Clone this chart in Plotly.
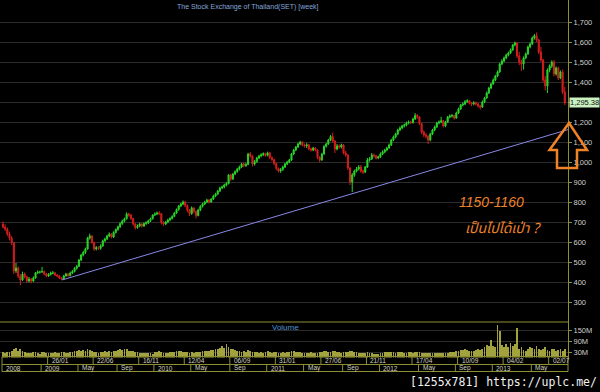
import pandas as pd
import plotly.graph_objects as go

# ---------------- data (weekly SET index) ----------------
START_WEEK = "2008-09-01"

OPEN = [690, 675, 665, 640, 620, 596, 455, 470, 430, 410,
        440, 425, 405, 415, 405, 420, 445, 450, 450, 452,
        440, 430, 438, 445, 445, 435, 430, 420, 415, 430,
        440, 432, 445, 452, 468, 478, 510, 535, 548, 565,
        620, 630, 598, 565, 572, 568, 580, 606, 615, 630,
        640, 625, 648, 662, 676, 692, 705, 716, 740, 735,
        718, 690, 672, 680, 690, 680, 692, 696, 706, 716,
        735, 740, 745, 742, 698, 690, 700, 710, 718, 728,
        745, 762, 780, 790, 800, 782, 760, 742, 770, 752,
        732, 760, 778, 790, 800, 810, 800, 815, 830, 840,
        855, 870, 875, 885, 892, 935, 915, 940, 952, 965,
        975, 990, 982, 988, 1040, 1030, 990, 1002, 1020, 1030,
        1036, 1042, 1033, 1045, 1022, 1012, 992, 968, 955, 962,
        975, 990, 1000, 1010, 1040, 1060, 1075, 1090, 1100, 1085,
        1080, 1086, 1065, 1060, 1070, 1060, 1022, 1010, 1040, 1078,
        1090, 1110, 1128, 1105, 1065, 1080, 1075, 1085, 1045, 1035,
        970, 900, 935, 955, 965, 975, 955, 950, 975, 1010,
        1015, 1035, 1030, 1020, 1025, 1040, 1050, 1060, 1070, 1085,
        1110, 1125, 1140, 1160, 1170, 1180, 1185, 1195, 1200, 1198,
        1215, 1232, 1225, 1192, 1150, 1135, 1128, 1110, 1140, 1160,
        1175, 1195, 1200, 1206, 1180, 1200, 1225, 1230, 1232, 1220,
        1245, 1265, 1285, 1290, 1302, 1306, 1295, 1290, 1296, 1290,
        1280, 1275, 1300, 1320, 1345, 1370, 1390, 1410, 1430, 1450,
        1490, 1505, 1520, 1535, 1545, 1560, 1585, 1595, 1530, 1500,
        1490, 1520, 1540, 1575, 1590, 1620, 1632, 1610, 1550, 1510,
        1410, 1380, 1460, 1480, 1500, 1440, 1470, 1420, 1450, 1350]

HIGH = [702, 688, 672, 652, 630, 600, 495, 478, 440, 452,
        448, 432, 425, 420, 428, 450, 458, 456, 476, 458,
        446, 444, 452, 455, 450, 440, 434, 425, 436, 446,
        445, 452, 460, 474, 486, 515, 540, 556, 572, 626,
        642, 634, 602, 580, 578, 588, 612, 622, 636, 648,
        645, 654, 668, 682, 698, 712, 722, 748, 746, 740,
        722, 694, 688, 696, 694, 698, 704, 712, 722, 738,
        748, 752, 754, 745, 704, 706, 716, 724, 734, 750,
        768, 785, 796, 808, 806, 788, 765, 778, 774, 758,
        766, 784, 796, 806, 816, 814, 820, 836, 846, 860,
        876, 882, 892, 900, 940, 942, 946, 958, 970, 982,
        996, 998, 996, 1046, 1050, 1034, 1010, 1026, 1036, 1044,
        1048, 1046, 1052, 1050, 1028, 1016, 996, 972, 970, 982,
        996, 1006, 1016, 1046, 1066, 1080, 1096, 1106, 1104, 1092,
        1094, 1090, 1072, 1076, 1074, 1064, 1030, 1046, 1084, 1096,
        1116, 1135, 1147, 1110, 1090, 1088, 1092, 1090, 1056, 1040,
        975, 945, 962, 975, 985, 985, 962, 980, 1020, 1025,
        1045, 1042, 1036, 1032, 1048, 1058, 1066, 1076, 1092, 1116,
        1132, 1146, 1166, 1178, 1186, 1192, 1202, 1208, 1206, 1222,
        1245, 1240, 1230, 1196, 1158, 1145, 1134, 1146, 1166, 1182,
        1200, 1208, 1226, 1210, 1206, 1230, 1238, 1240, 1236, 1252,
        1272, 1290, 1298, 1310, 1314, 1310, 1300, 1304, 1302, 1296,
        1286, 1308, 1326, 1352, 1376, 1396, 1418, 1436, 1458, 1496,
        1514, 1528, 1542, 1552, 1568, 1590, 1602, 1598, 1550, 1512,
        1528, 1548, 1582, 1598, 1628, 1640, 1648, 1616, 1575, 1515,
        1430, 1468, 1488, 1508, 1510, 1478, 1476, 1458, 1462, 1376]

LOW = [668, 655, 630, 608, 585, 440, 445, 420, 384, 405,
       418, 396, 398, 393, 400, 416, 440, 442, 446, 434,
       424, 425, 432, 438, 430, 424, 414, 411, 412, 426,
       426, 428, 440, 448, 462, 475, 505, 528, 540, 562,
       612, 590, 556, 558, 560, 562, 576, 600, 610, 624,
       618, 620, 642, 656, 670, 686, 698, 712, 726, 710,
       682, 662, 666, 674, 672, 675, 686, 690, 700, 712,
       730, 734, 734, 688, 680, 684, 694, 704, 712, 724,
       740, 756, 774, 784, 774, 748, 730, 736, 744, 718,
       728, 754, 772, 784, 794, 792, 796, 810, 824, 834,
       850, 864, 868, 878, 888, 905, 910, 934, 946, 958,
       970, 974, 975, 984, 1022, 978, 982, 996, 1014, 1024,
       1030, 1026, 1028, 1014, 1004, 984, 958, 948, 946, 956,
       970, 984, 994, 1006, 1034, 1054, 1070, 1084, 1078, 1072,
       1070, 1058, 1052, 1054, 1052, 1014, 1000, 1006, 1036, 1072,
       1086, 1104, 1098, 1045, 1058, 1066, 1068, 1038, 1026, 960,
       885, 850, 926, 948, 958, 946, 940, 944, 970, 1002,
       1010, 1022, 1012, 1014, 1020, 1034, 1044, 1054, 1066, 1080,
       1104, 1118, 1134, 1154, 1164, 1172, 1178, 1188, 1190, 1192,
       1210, 1216, 1185, 1140, 1124, 1118, 1090, 1104, 1134, 1154,
       1170, 1188, 1194, 1172, 1174, 1196, 1218, 1222, 1212, 1216,
       1240, 1260, 1278, 1284, 1296, 1288, 1280, 1284, 1282, 1272,
       1262, 1270, 1294, 1316, 1340, 1364, 1386, 1404, 1424, 1446,
       1484, 1498, 1514, 1528, 1540, 1556, 1578, 1520, 1485, 1455,
       1462, 1514, 1536, 1568, 1586, 1612, 1600, 1540, 1500, 1400,
       1358, 1345, 1448, 1470, 1428, 1432, 1410, 1414, 1340, 1285]

CLOSE = [675, 665, 640, 620, 596, 455, 470, 430, 410, 440,
         425, 405, 415, 405, 420, 445, 450, 450, 452, 440,
         430, 438, 445, 445, 435, 430, 420, 415, 430, 440,
         432, 445, 452, 468, 478, 510, 535, 548, 565, 620,
         630, 598, 565, 572, 568, 580, 606, 615, 630, 640,
         625, 648, 662, 676, 692, 705, 716, 740, 735, 718,
         690, 672, 680, 690, 680, 692, 696, 706, 716, 735,
         740, 745, 742, 698, 690, 700, 710, 718, 728, 745,
         762, 780, 790, 800, 782, 760, 742, 770, 752, 732,
         760, 778, 790, 800, 810, 800, 815, 830, 840, 855,
         870, 875, 885, 892, 935, 915, 940, 952, 965, 975,
         990, 982, 988, 1040, 1030, 990, 1002, 1020, 1030, 1036,
         1042, 1033, 1045, 1022, 1012, 992, 968, 955, 962, 975,
         990, 1000, 1010, 1040, 1060, 1075, 1090, 1100, 1085, 1080,
         1086, 1065, 1060, 1070, 1060, 1022, 1010, 1040, 1078, 1090,
         1110, 1128, 1105, 1065, 1080, 1075, 1085, 1045, 1035, 970,
         900, 935, 955, 965, 975, 955, 950, 975, 1010, 1015,
         1035, 1030, 1020, 1025, 1040, 1050, 1060, 1070, 1085, 1110,
         1125, 1140, 1160, 1170, 1180, 1185, 1195, 1200, 1198, 1215,
         1232, 1225, 1192, 1150, 1135, 1128, 1110, 1140, 1160, 1175,
         1195, 1200, 1206, 1180, 1200, 1225, 1230, 1232, 1220, 1245,
         1265, 1285, 1290, 1302, 1306, 1295, 1290, 1296, 1290, 1280,
         1275, 1300, 1320, 1345, 1370, 1390, 1410, 1430, 1450, 1490,
         1505, 1520, 1535, 1545, 1560, 1585, 1595, 1530, 1500, 1490,
         1520, 1540, 1575, 1590, 1620, 1632, 1610, 1550, 1510, 1410,
         1380, 1460, 1480, 1500, 1440, 1470, 1420, 1450, 1350, 1295.38]

VOLUME_M = [28, 25, 32, 30, 35, 48, 52, 38, 45, 36,
            30, 27, 25, 24, 28, 30, 26, 18, 32, 30,
            26, 24, 27, 25, 28, 26, 24, 28, 30, 27,
            25, 32, 30, 34, 36, 40, 38, 42, 36, 45,
            40, 35, 30, 28, 26, 30, 32, 34, 30, 36,
            32, 35, 38, 42, 46, 40, 44, 48, 38, 35,
            34, 32, 28, 26, 27, 25, 24, 26, 22, 20,
            30, 32, 34, 28, 25, 24, 26, 28, 30, 32,
            34, 36, 38, 32, 28, 30, 26, 28, 27, 30,
            28, 30, 35, 38, 36, 34, 40, 42, 45, 48,
            52, 62, 50, 74, 55, 48, 45, 40, 38, 35,
            32, 36, 30, 40, 34, 32, 28, 30, 26, 28,
            24, 30, 34, 28, 26, 30, 32, 26, 24, 28,
            26, 30, 32, 34, 36, 32, 30, 28, 26, 25,
            24, 26, 28, 24, 22, 26, 28, 30, 38, 34,
            32, 30, 34, 36, 30, 28, 26, 30, 28, 32,
            36, 34, 30, 28, 26, 24, 22, 26, 28, 24,
            22, 20, 18, 20, 24, 26, 28, 30, 32, 30,
            28, 26, 30, 32, 28, 26, 24, 28, 30, 26,
            28, 32, 30, 26, 24, 22, 24, 26, 22, 24,
            26, 24, 22, 25, 27, 26, 28, 30, 32, 34,
            38, 42, 40, 44, 40, 36, 38, 34, 40, 44,
            42, 48, 55, 70, 62, 97, 62, 58, 180, 145,
            70, 60, 75, 55, 80, 62, 75, 160, 48, 55,
            42, 38, 45, 55, 50, 48, 62, 45, 40, 48,
            55, 42, 38, 46, 44, 36, 40, 45, 38, 48]

LAST_PRICE = 1295.38

PRICE_TICKS = [300, 400, 500, 600, 700, 800, 900, 1000, 1100, 1200,
               1300, 1400, 1500, 1600, 1700]
VOL_TICKS = [30, 90, 150]
VOL_TICK_TEXT = ["30M", "90M", "150M"]

# date axis, row 1 (every 21 weeks) and row 2 (year / month)
ROW1_DATES = ["2009-01-26", "2009-06-22", "2009-11-16", "2010-04-12",
              "2010-09-06", "2011-01-31", "2011-06-27", "2011-11-21",
              "2012-04-16", "2012-09-10", "2013-02-04", "2013-07-01"]
ROW1_TEXT = ["26/01", "22/06", "16/11", "12/04", "06/09", "31/01",
             "27/06", "21/11", "17/04", "10/09", "04/02", "02/07"]
ROW2_DATES = ["2009-01-05", "2009-05-04", "2009-09-07", "2010-01-04",
              "2010-05-03", "2010-09-06", "2011-01-03", "2011-05-02",
              "2011-09-05", "2012-01-02", "2012-05-07", "2012-09-03",
              "2012-12-31", "2013-05-06"]
ROW2_TEXT = ["2009", "May", "Sep", "2010", "May", "Sep", "2011", "May",
             "Sep", "2012", "May", "Sep", "2013", "May"]
ROW2_FIRST = "2008"

# support trend line (date, index level)
TREND_START = ("2009-03-10", 410)
TREND_END = ("2013-08-29 09:00", 1162)

TITLE = "The Stock Exchange of Thailand(SET) [week]"
NOTE1 = "1150-1160"
NOTE2 = "เป็นไปได้เป่า ?"
WATERMARK = "[1255x781] https://uplc.me/"

# ---------------- styling / layout ----------------
W, H = 600, 392
UP = "#2bd42b"
DOWN = "#d41e1e"
AX = "#8e8e34"
GRID = "#2c2c2c"
VOLC = "#a2a23e"
ORANGE = "#f08228"
XR = ["2008-08-22 08:00", "2013-08-29 09:00"]
AX_X = 568


def px(x):
    return x / W


def py(y):
    return 1 - y / H


dates = pd.date_range(START_WEEK, periods=len(CLOSE), freq="W-MON")

fig = go.Figure()
fig.add_trace(go.Candlestick(
    x=dates, open=OPEN, high=HIGH, low=LOW, close=CLOSE,
    increasing=dict(line=dict(color=UP, width=1), fillcolor=UP),
    decreasing=dict(line=dict(color=DOWN, width=1), fillcolor=DOWN),
    whiskerwidth=0, xaxis="x", yaxis="y", showlegend=False, hoverinfo="skip"))
fig.add_trace(go.Bar(
    x=dates, y=VOLUME_M, width=2.6 * 86400000,
    marker=dict(color=VOLC, line=dict(width=0)),
    xaxis="x", yaxis="y2", showlegend=False, hoverinfo="skip"))

tickfont = dict(family="Liberation Sans, Arial, sans-serif", size=7.5, color="#cfcfcf")

fig.update_layout(
    width=W, height=H, margin=dict(l=0, r=0, t=0, b=0),
    paper_bgcolor="black", plot_bgcolor="black", showlegend=False,
    bargap=0,
    xaxis=dict(domain=[0, px(AX_X)], range=XR, type="date", showticklabels=False,
               showgrid=False, zeroline=False, showline=False, ticks="",
               rangeslider=dict(visible=False), anchor="y2"),
    yaxis=dict(domain=[py(322), 1], range=[200, 1810], side="right", anchor="x",
               tickvals=PRICE_TICKS, ticktext=[f"{v:,}" for v in PRICE_TICKS],
               showgrid=True, gridcolor=GRID, gridwidth=1, zeroline=False,
               showline=True, linecolor=AX, linewidth=1,
               ticks="outside", ticklen=3, tickcolor=AX, tickfont=tickfont),
    yaxis2=dict(domain=[py(357.5), py(322)], range=[0, 194], side="right", anchor="x",
                tickvals=VOL_TICKS, ticktext=VOL_TICK_TEXT,
                showgrid=True, gridcolor=GRID, zeroline=False,
                showline=True, linecolor=AX, linewidth=1,
                ticks="outside", ticklen=3, tickcolor=AX, tickfont=tickfont),
)

shapes = []
# panel separator
shapes.append(dict(type="line", xref="paper", yref="paper", x0=0, x1=px(AX_X),
                   y0=py(322), y1=py(322), line=dict(color=AX, width=1)))
# date axis frame
for yy in (356.5, 364.5, 371.5):
    shapes.append(dict(type="line", xref="paper", yref="paper", x0=px(2), x1=px(AX_X),
                       y0=py(yy), y1=py(yy), line=dict(color=AX, width=1)))
for xx in (2, AX_X):
    shapes.append(dict(type="line", xref="paper", yref="paper", x0=px(xx), x1=px(xx),
                       y0=py(356.5), y1=py(371.5), line=dict(color=AX, width=1)))

annots = []
lab_font = dict(family="Liberation Sans, Arial, sans-serif", size=6.5, color="#d2d2c0")
off = pd.Timedelta(days=3)
for d, t in zip(ROW1_DATES, ROW1_TEXT):
    x = pd.Timestamp(d) - off
    shapes.append(dict(type="line", xref="x", yref="paper", x0=x, x1=x,
                       y0=py(356.5), y1=py(364.5), line=dict(color=AX, width=1)))
    annots.append(dict(xref="x", yref="paper", x=x, y=py(360.5), text=t, showarrow=False,
                       xanchor="left", yanchor="middle", xshift=2, font=lab_font))
for d, t in zip(ROW2_DATES, ROW2_TEXT):
    x = pd.Timestamp(d) - off
    shapes.append(dict(type="line", xref="x", yref="paper", x0=x, x1=x,
                       y0=py(364.5), y1=py(371.5), line=dict(color=AX, width=1)))
    annots.append(dict(xref="x", yref="paper", x=x, y=py(368), text=t, showarrow=False,
                       xanchor="left", yanchor="middle", xshift=2, font=lab_font))
annots.append(dict(xref="paper", yref="paper", x=px(4), y=py(368), text=ROW2_FIRST,
                   showarrow=False, xanchor="left", yanchor="middle", font=lab_font))

# trend line
shapes.append(dict(type="line", xref="x", yref="y", x0=TREND_START[0], y0=TREND_START[1],
                   x1=TREND_END[0], y1=TREND_END[1], line=dict(color="#8888e6", width=1)))

# orange up-arrow outline
pts = [(569, 123), (587, 150), (577, 150), (577, 168), (557, 168), (557, 150), (549.5, 150)]
path = "M " + " L ".join(f"{px(a):.5f},{py(b):.5f}" for a, b in pts) + " Z"
shapes.append(dict(type="path", xref="paper", yref="paper", path=path,
                   line=dict(color=ORANGE, width=2.5), fillcolor="rgba(0,0,0,0)", layer="above"))

# titles / labels
annots.append(dict(xref="paper", yref="paper", x=px(248), y=py(6.5), text=TITLE,
                   showarrow=False, xanchor="center", yanchor="middle",
                   font=dict(family="Liberation Sans, Arial, sans-serif", size=7, color="#86a6dc")))
annots.append(dict(xref="paper", yref="paper", x=px(285), y=py(327.5), text="Volume",
                   showarrow=False, xanchor="center", yanchor="middle",
                   font=dict(family="Liberation Sans, Arial, sans-serif", size=8, color="#4f97d6")))
annots.append(dict(xref="paper", yref="y", x=px(AX_X + 1), y=LAST_PRICE, text=f"{LAST_PRICE:,.2f}",
                   showarrow=False, xanchor="left", yanchor="middle", bgcolor="#c9f2c0",
                   borderpad=0, font=dict(family="Liberation Sans, Arial, sans-serif", size=7.5, color="#101010")))
annots.append(dict(xref="paper", yref="paper", x=px(491), y=py(202), text=f"<i>{NOTE1}</i>",
                   showarrow=False, xanchor="center", yanchor="middle",
                   font=dict(family="Liberation Sans, Arial, sans-serif", size=14, color=ORANGE)))
annots.append(dict(xref="paper", yref="paper", x=px(503), y=py(228), text=f"<i>{NOTE2}</i>",
                   showarrow=False, xanchor="center", yanchor="middle",
                   font=dict(family="Noto Sans Thai, Tahoma, DejaVu Sans, sans-serif", size=14, color=ORANGE)))
annots.append(dict(xref="paper", yref="paper", x=px(599), y=py(382), text=WATERMARK,
                   showarrow=False, xanchor="right", yanchor="middle",
                   font=dict(family="DejaVu Sans Mono, monospace", size=11.5, color="#f2f2f2")))

fig.update_layout(shapes=shapes, annotations=annots)
fig.write_html("out.html")
